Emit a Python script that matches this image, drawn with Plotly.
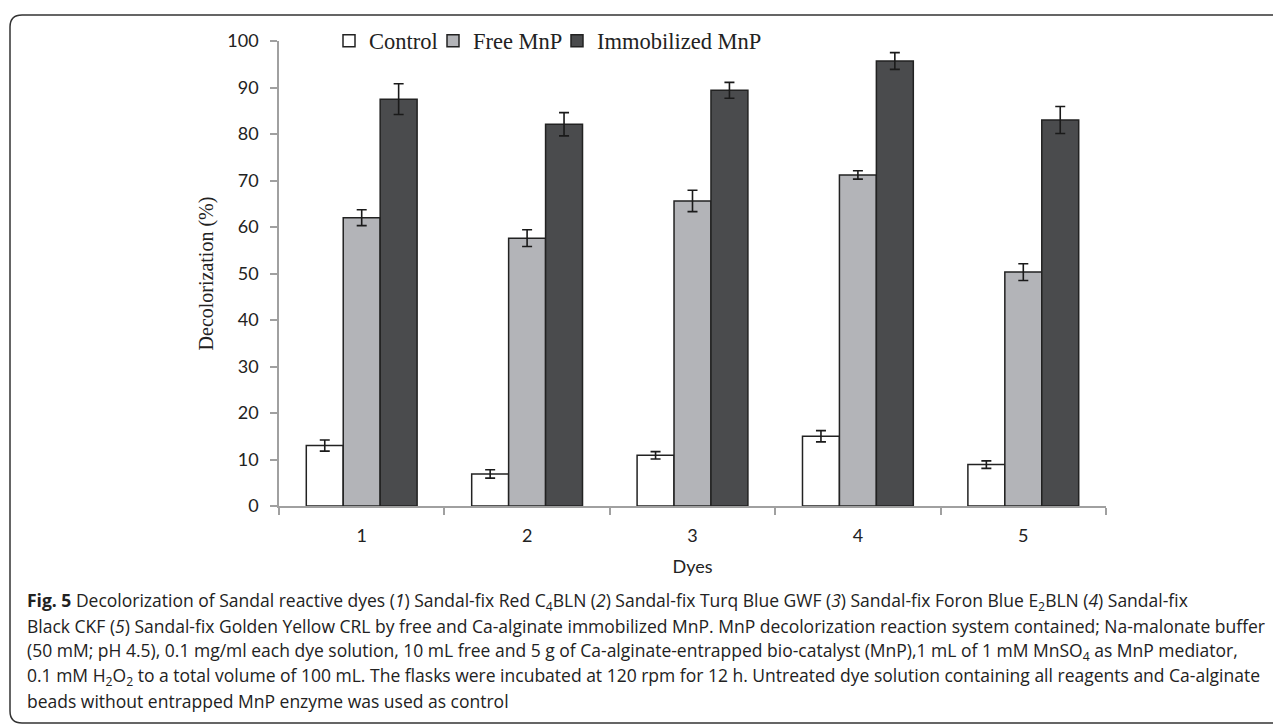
import plotly.graph_objects as go

dyes = ["1", "2", "3", "4", "5"]
control = [13.0, 6.9, 10.9, 15.0, 8.9]
control_err = [1.2, 0.9, 0.8, 1.2, 0.8]
free_mnp = [62.0, 57.6, 65.6, 71.2, 50.3]
free_err = [1.7, 1.8, 2.3, 0.9, 1.8]
immob_mnp = [87.5, 82.1, 89.4, 95.7, 83.0]
immob_err = [3.3, 2.5, 1.7, 1.8, 2.9]
yticks = [0, 10, 20, 30, 40, 50, 60, 70, 80, 90, 100]

caption_lines = [
    "<b>Fig. 5</b> Decolorization of Sandal reactive dyes (<i>1</i>) Sandal-fix Red C<sub>4</sub>BLN (<i>2</i>) Sandal-fix Turq Blue GWF (<i>3</i>) Sandal-fix Foron Blue E<sub>2</sub>BLN (<i>4</i>) Sandal-fix",
    "Black CKF (<i>5</i>) Sandal-fix Golden Yellow CRL by free and Ca-alginate immobilized MnP. MnP decolorization reaction system contained; Na-malonate buffer",
    "(50 mM; pH 4.5), 0.1 mg/ml each dye solution, 10 mL free and 5 g of Ca-alginate-entrapped bio-catalyst (MnP),1 mL of 1 mM MnSO<sub>4</sub> as MnP mediator,",
    "0.1 mM H<sub>2</sub>O<sub>2</sub> to a total volume of 100 mL. The flasks were incubated at 120 rpm for 12 h. Untreated dye solution containing all reagents and Ca-alginate",
    "beads without entrapped MnP enzyme was used as control",
]

W, H = 1281, 725
OFF = 7                                   # page offset of the figure in the screenshot
L, R, T, B = 278 - OFF, 1105 - OFF, 40 - OFF, 505 - OFF   # plot area (figure px)
PT = 0

def px(x):  # x in screenshot pixels -> paper
    return (x - OFF - L) / (R - L)

def py(y):  # y in screenshot pixels -> paper
    return (B - (y - OFF)) / (B - PT)

err_style = dict(type="data", visible=True, color="#1a1a1a", thickness=1.6, width=5)
outline = dict(color="#222222", width=1.5)

fig = go.Figure()
fig.add_trace(go.Bar(name="Control", x=dyes, y=control, legend="legend",
                     error_y=dict(array=control_err, **err_style),
                     marker=dict(color="#ffffff", line=outline)))
fig.add_trace(go.Bar(name="Free MnP", x=dyes, y=free_mnp, legend="legend2",
                     error_y=dict(array=free_err, **err_style),
                     marker=dict(color="#b3b4b8", line=outline)))
fig.add_trace(go.Bar(name="Immobilized MnP", x=dyes, y=immob_mnp, legend="legend3",
                     error_y=dict(array=immob_err, **err_style),
                     marker=dict(color="#4a4b4d", line=outline)))

# rounded frame around the figure
x0, y0, x1, y1 = px(9), py(14), px(1300), py(722)
rx = 12 / (R - L)
ry = 12 / (B - PT)
path = (f"M {x0+rx},{y0} L {x1},{y0} L {x1},{y1} L {x0+rx},{y1} "
        f"Q {x0},{y1} {x0},{y1+ry} L {x0},{y0-ry} Q {x0},{y0} {x0+rx},{y0} Z")
fig.add_shape(type="path", path=path, xref="paper", yref="paper",
              line=dict(color="#333333", width=1.5), fillcolor="rgba(0,0,0,0)", layer="below")

cap_font = dict(family="Open Sans, sans-serif", size=17.5, color="#222222")
for i, line in enumerate(caption_lines):
    fig.add_annotation(text=line, xref="paper", yref="paper",
                       x=px(24), y=py(600 + 25 * i), xanchor="left", yanchor="middle",
                       showarrow=False, align="left", font=cap_font)

leg_font = dict(family="Liberation Serif, serif", size=22.5, color="#222222")
def leg(xs):
    return dict(orientation="h", x=px(xs), y=py(40), xanchor="left", yanchor="middle",
                font=leg_font, itemwidth=30, tracegroupgap=0, bgcolor="rgba(0,0,0,0)")

fig.update_layout(
    width=W, height=H,
    margin=dict(l=L, r=W - R, t=PT, b=H - B, pad=0, autoexpand=False),
    paper_bgcolor="white", plot_bgcolor="white",
    barmode="group", bargap=0.33, bargroupgap=0,
    showlegend=True,
    legend=leg(328), legend2=leg(432), legend3=leg(556),
    xaxis=dict(type="category", range=[-0.5, 4.5], showline=True, linecolor="#a0a0a0",
               linewidth=1.5, ticks="outside", tickson="boundaries", ticklen=7,
               tickcolor="#a0a0a0", tickwidth=1.5, showgrid=False, automargin=False,
               ticklabelstandoff=13,
               tickfont=dict(family="Lato, sans-serif", size=18, color="#222222"),
               title=dict(text="Dyes", standoff=15,
                          font=dict(family="Lato, sans-serif", size=18, color="#222222"))),
    yaxis=dict(range=[0, 100], domain=[0, (B - T) / (B - PT)], tickvals=yticks,
               showline=True, linecolor="#a0a0a0", automargin=False,
               linewidth=1.5, ticks="outside", ticklen=7, tickcolor="#a0a0a0",
               tickwidth=1.5, showgrid=False, zeroline=False, ticklabelstandoff=8,
               tickfont=dict(family="Lato, sans-serif", size=18, color="#222222"),
               title=dict(text="Decolorization (%)", standoff=8,
                          font=dict(family="Liberation Serif, serif", size=20, color="#222222"))),
)

fig.write_html("out.html")
